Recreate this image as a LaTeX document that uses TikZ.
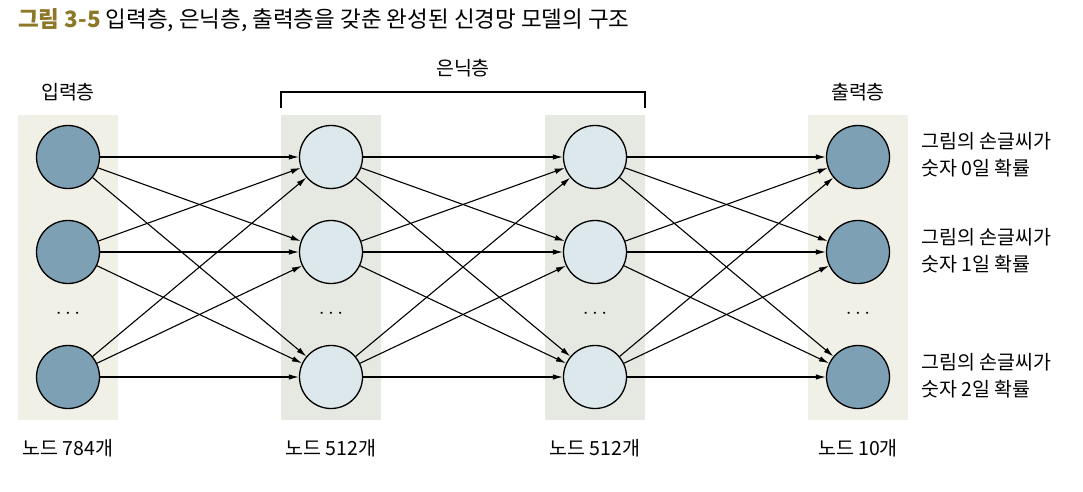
\documentclass[tikz,border=0pt]{standalone}
\usepackage{fontspec}
\setmainfont{Noto Sans CJK KR}
\usetikzlibrary{arrows.meta,positioning}
\definecolor{titlegold}{HTML}{8C7828}
\definecolor{darkcell}{HTML}{7DA0B4}
\definecolor{lightcell}{HTML}{DCE8EB}
\definecolor{sidepanel}{HTML}{F0F0E6}
\definecolor{midpanel}{HTML}{E5E9E1}
\begin{document}
\begin{tikzpicture}[x=1pt,y=-1pt,
  panel/.style={minimum width=100pt,minimum height=305pt,inner sep=0pt},
  unit/.style={circle,draw,line width=1.3pt,minimum size=63pt,inner sep=0pt},
  link/.style={line width=1.1pt,-{Latex[length=10pt,width=5.5pt]}},
  lbl/.style={font=\fontsize{19.5}{22}\selectfont},
  prob/.style={font=\fontsize{19.5}{27}\selectfont,align=left,anchor=west}]
\useasboundingbox (0,0) rectangle (1083,492);

% title
\node[anchor=west,font=\fontsize{22.5}{24}\selectfont,inner sep=0pt] (title) at (18,20)
  {\textcolor{titlegold}{\bfseries 그림 3-5} 입력층, 은닉층, 출력층을 갖춘 완성된 신경망 모델의 구조};

% layer panels
\node[panel,fill=sidepanel] (incol) at (68,267.5) {};
\node[panel,fill=midpanel] (hacol) at (331,267.5) {};
\node[panel,fill=midpanel] (hbcol) at (595,267.5) {};
\node[panel,fill=sidepanel] (outcol) at (858,267.5) {};

% units
\foreach \r/\y in {0/157,1/252,2/377} {
  \node[unit,fill=darkcell] (in\r) at (68,\y) {};
  \node[unit,fill=lightcell] (ha\r) at (331,\y) {};
  \node[unit,fill=lightcell] (hb\r) at (595,\y) {};
  \node[unit,fill=darkcell] (out\r) at (858,\y) {};
}

% connections
\foreach \a/\b in {in/ha,ha/hb,hb/out}
  \foreach \i in {0,1,2}
    \foreach \j in {0,1,2}
      \draw[link] (\a\i) -- (\b\j);

% dots
\foreach \c/\x in {in/68,ha/331,hb/595,out/858}
  \node[font=\fontsize{20}{20}\selectfont] (\c dots) at (\x,314) {$\cdots$};

% layer names
\node[lbl] (inname) at (68,92) {입력층};
\node[lbl] (outname) at (858,92) {출력층};
\node[lbl] (hidname) at (463,68) {은닉층};
\draw[line width=1.2pt] (281,108) |- (645,92) -- (645,108);

% node counts
\node[lbl] (incount) at (68,448) {노드 784개};
\node[lbl] (hacount) at (331,448) {노드 512개};
\node[lbl] (hbcount) at (595,448) {노드 512개};
\node[lbl] (outcount) at (858,448) {노드 10개};

% outputs
\node[prob] (p0) at (918,155) {그림의 손글씨가\\숫자 0일 확률};
\node[prob] (p1) at (918,251) {그림의 손글씨가\\숫자 1일 확률};
\node[prob] (p2) at (918,376) {그림의 손글씨가\\숫자 2일 확률};
\end{tikzpicture}
\end{document}
